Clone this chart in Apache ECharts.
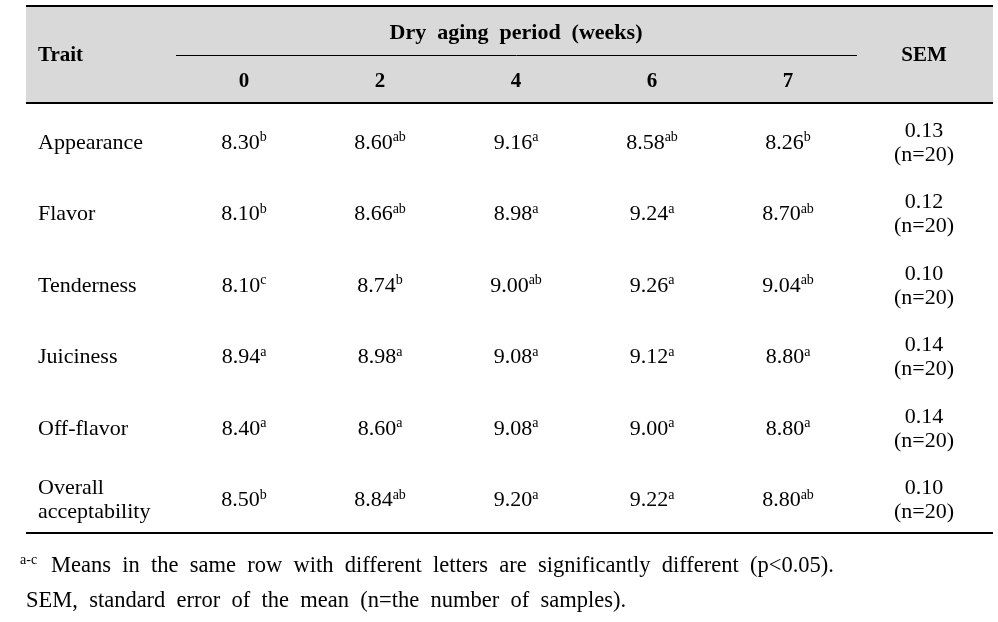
<!DOCTYPE html>
<html>
<head>
<meta charset="utf-8">
<script src="https://cdn.jsdelivr.net/npm/echarts@6/dist/echarts.min.js"></script>
<style>
  html, body { margin: 0; padding: 0; background: #fff; }
  #main { width: 998px; height: 622px; }
</style>
</head>
<body>
<div id="main"></div>
<script>
// table content
const traits = ['Appearance', 'Flavor', 'Tenderness', 'Juiciness', 'Off-flavor', 'Overall\nacceptability'];
const weekLabels = ['0', '2', '4', '6', '7'];

const appearance = [8.30, 8.60, 9.16, 8.58, 8.26];
const appearanceSig = ['b', 'ab', 'a', 'ab', 'b'];
const flavor = [8.10, 8.66, 8.98, 9.24, 8.70];
const flavorSig = ['b', 'ab', 'a', 'a', 'ab'];
const tenderness = [8.10, 8.74, 9.00, 9.26, 9.04];
const tendernessSig = ['c', 'b', 'ab', 'a', 'ab'];
const juiciness = [8.94, 8.98, 9.08, 9.12, 8.80];
const juicinessSig = ['a', 'a', 'a', 'a', 'a'];
const offFlavor = [8.40, 8.60, 9.08, 9.00, 8.80];
const offFlavorSig = ['a', 'a', 'a', 'a', 'a'];
const overall = [8.50, 8.84, 9.20, 9.22, 8.80];
const overallSig = ['b', 'ab', 'a', 'a', 'ab'];

const semValues = [0.13, 0.12, 0.10, 0.14, 0.14, 0.10];
const semN = 20;

const rows = [
  [appearance, appearanceSig],
  [flavor, flavorSig],
  [tenderness, tendernessSig],
  [juiciness, juicinessSig],
  [offFlavor, offFlavorSig],
  [overall, overallSig]
];

const serif = 'Liberation Serif';

// one cell per data item: [column, row], text kept alongside
const cells = [];
const cellTexts = [];
rows.forEach((row, r) => {
  row[0].forEach((v, c) => {
    cells.push([c, r]);
    cellTexts.push('{v|' + v.toFixed(2) + '}{s|' + row[1][c] + '}');
  });
  cells.push([weekLabels.length, r]);
  cellTexts.push('{v|' + semValues[r].toFixed(2) + '}\n{v|(n=' + semN + ')}');
});

const cellRich = {
  v: { fontFamily: serif, fontSize: 22, lineHeight: 24, fill: '#000' },
  s: { fontFamily: serif, fontSize: 14, lineHeight: 14, verticalAlign: 'top', fill: '#000' }
};

const chart = echarts.init(document.getElementById('main'));
chart.setOption({
  backgroundColor: '#fff',
  animation: false,
  grid: { left: 176, right: 6, top: 107, bottom: 86 },
  xAxis: {
    type: 'category',
    position: 'top',
    data: weekLabels.concat(['SEM']),
    axisLine: { show: false },
    axisTick: { show: false },
    splitLine: { show: false },
    axisLabel: {
      margin: 15,
      fontFamily: serif,
      fontWeight: 'bold',
      fontSize: 21,
      color: '#000',
      formatter: (v) => (v === 'SEM' ? '' : v)
    }
  },
  yAxis: {
    type: 'category',
    inverse: true,
    data: traits,
    axisLine: { show: false },
    axisTick: { show: false },
    splitLine: { show: false },
    axisLabel: {
      align: 'left',
      margin: 138,
      fontFamily: serif,
      fontSize: 22,
      lineHeight: 24,
      color: '#000'
    }
  },
  series: [{
    type: 'custom',
    data: cells,
    renderItem: (params, api) => {
      const pt = api.coord([api.value(0), api.value(1)]);
      return {
        type: 'text',
        x: pt[0],
        y: pt[1],
        style: {
          text: cellTexts[params.dataIndex],
          align: 'center',
          verticalAlign: 'middle',
          fill: '#000',
          rich: cellRich
        }
      };
    }
  }],
  graphic: [
    { type: 'rect', z: -1, shape: { x: 26, y: 6, width: 967, height: 97 }, style: { fill: '#d9d9d9' } },
    { type: 'line', shape: { x1: 26, y1: 6, x2: 993, y2: 6 }, style: { stroke: '#000', lineWidth: 2 } },
    { type: 'line', shape: { x1: 176, y1: 55.5, x2: 857, y2: 55.5 }, style: { stroke: '#000', lineWidth: 1 } },
    { type: 'line', shape: { x1: 26, y1: 103, x2: 993, y2: 103 }, style: { stroke: '#000', lineWidth: 2 } },
    { type: 'line', shape: { x1: 26, y1: 533, x2: 993, y2: 533 }, style: { stroke: '#000', lineWidth: 2 } },
    {
      type: 'text', x: 38, y: 56,
      style: { text: 'Trait', fontFamily: serif, fontWeight: 'bold', fontSize: 21, fill: '#000', verticalAlign: 'middle' }
    },
    {
      type: 'text', x: 516, y: 33,
      style: { text: 'Dry  aging  period  (weeks)', fontFamily: serif, fontWeight: 'bold', fontSize: 22, fill: '#000', align: 'center', verticalAlign: 'middle' }
    },
    {
      type: 'text', x: 924, y: 56,
      style: { text: 'SEM', fontFamily: serif, fontWeight: 'bold', fontSize: 21, fill: '#000', align: 'center', verticalAlign: 'middle' }
    },
    {
      type: 'text', x: 20, y: 566,
      style: {
        text: '{s|a-c}{t|Means  in  the  same  row  with  different  letters  are  significantly  different  (p<0.05).}',
        verticalAlign: 'middle',
        rich: {
          s: { fontFamily: serif, fontSize: 14, lineHeight: 26, verticalAlign: 'top', padding: [0, 14, 0, 0], fill: '#000' },
          t: { fontFamily: serif, fontSize: 22.5, lineHeight: 26, fill: '#000' }
        }
      }
    },
    {
      type: 'text', x: 26, y: 601,
      style: { text: 'SEM,  standard  error  of  the  mean  (n=the  number  of  samples).', fontFamily: serif, fontSize: 22.5, fill: '#000', verticalAlign: 'middle' }
    }
  ]
});
</script>
</body>
</html>
